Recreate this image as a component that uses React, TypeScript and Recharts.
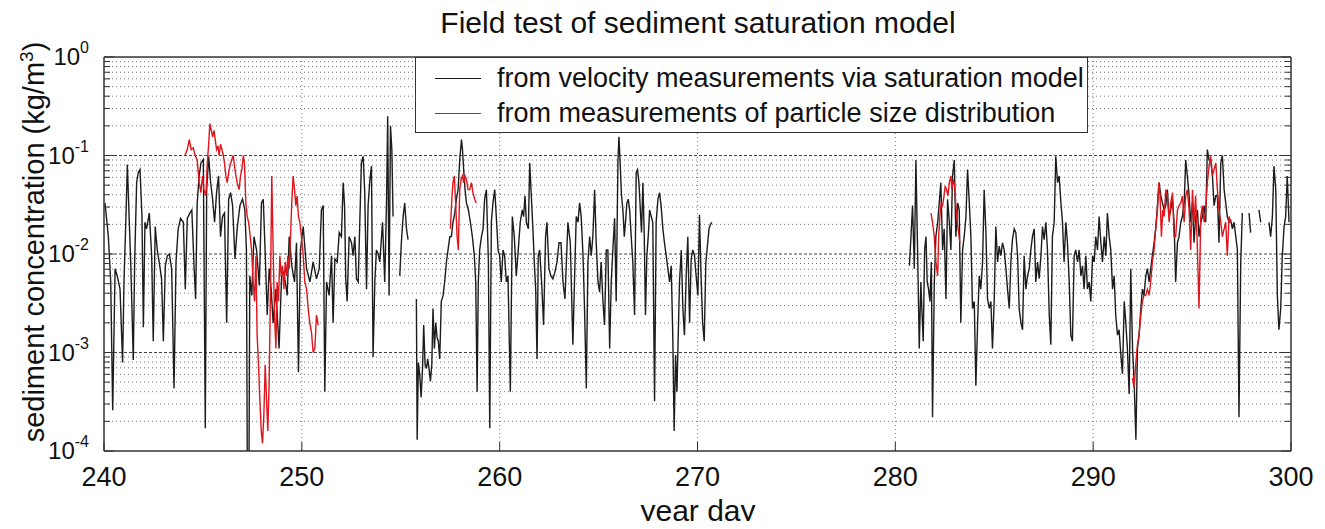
import React from 'react';
import { LineChart, Line, XAxis, YAxis, CartesianGrid, ReferenceLine } from 'recharts';

type Pt = [number, number | null];

// year day ticks
const dayTicks = [240, 250, 260, 270, 280, 290, 300];
const dayGrid = [250, 260, 270, 280, 290];

// log axis ticks (kg/m^3)
const decadeTicks = [0.0001, 0.001, 0.01, 0.1, 1];
const decadeGrid = [0.001, 0.01, 0.1];
const minorGrid = [
  0.0002, 0.0003, 0.0004, 0.0005, 0.0006, 0.0007, 0.0008, 0.0009,
  0.002, 0.003, 0.004, 0.005, 0.006, 0.007, 0.008, 0.009,
  0.02, 0.03, 0.04, 0.05, 0.06, 0.07, 0.08, 0.09,
  0.2, 0.3, 0.4, 0.5, 0.6, 0.7, 0.8, 0.9,
];
const logTicks = [...decadeTicks, ...minorGrid].sort((a, b) => a - b);

// black: from velocity measurements via saturation model (null = gap)
const velocityModel: Pt[] = [
  [240.05, 0.033], [240.22, 0.015], [240.34, 0.0052], [240.44, 0.00026], [240.56, 0.0071], [240.67, 0.006],
  [240.81, 0.0044], [240.94, 0.00079], [241.01, 0.0052], [241.11, 0.024], [241.18, 0.081], [241.28, 0.021],
  [241.36, 0.0071], [241.48, 0.00084], [241.55, 0.0083], [241.65, 0.053], [241.73, 0.067], [241.82, 0.072],
  [241.92, 0.024], [241.99, 0.0018], [242.07, 0.021], [242.15, 0.018], [242.29, 0.026], [242.41, 0.0096],
  [242.49, 0.0013], [242.59, 0.019], [242.69, 0.011], [242.79, 0.0083], [242.91, 0.0056], [243.0, 0.0013],
  [243.1, 0.0076], [243.2, 0.0096], [243.3, 0.01], [243.42, 0.0071], [243.54, 0.00043], [243.64, 0.0083],
  [243.75, 0.018], [243.87, 0.023], [244.01, 0.021], [244.11, 0.0044], [244.21, 0.023], [244.34, 0.026],
  [244.44, 0.028], [244.55, 0.0076], [244.63, 0.0035], [244.71, 0.033], [244.81, 0.062], [244.9, 0.084],
  [245.02, 0.091], [245.12, 0.00017], [245.19, 0.045], [245.29, 0.098], [245.39, 0.053], [245.49, 0.036],
  [245.59, 0.021], [245.69, 0.042], [245.79, 0.062], [245.89, 0.015], [245.99, 0.024], [246.09, 0.026],
  [246.2, 0.002], [246.3, 0.036], [246.4, 0.042], [246.5, 0.031], [246.62, 0.0089], [246.73, 0.018],
  [246.87, 0.031], [247.0, 0.036], [247.12, 0.028], [247.2, 0.011], [247.26, 0.00001], [247.31, 0.00001],
  [247.37, 0.006], [247.47, 0.0038], [247.58, 0.015], [247.71, 0.011], [247.85, 0.0048], [247.96, 0.033],
  [248.05, 0.036], [248.15, 0.01], [248.25, 0.0024], [248.35, 0.0071], [248.45, 0.0044], [248.55, 0.002],
  [248.69, 0.0044], [248.85, 0.0011], [248.99, 0.0071], [249.12, 0.006], [249.26, 0.0038], [249.36, 0.015],
  [249.49, 0.0076], [249.63, 0.0052], [249.73, 0.013], [249.83, 0.00063], [249.93, 0.011], [250.07, 0.019],
  [250.24, 0.0071], [250.41, 0.0052], [250.57, 0.0083], [250.74, 0.0056], [250.88, 0.0071], [250.99, 0.028],
  [251.08, 0.031], [251.16, 0.0004], [251.25, 0.0052], [251.38, 0.0038], [251.5, 0.0096], [251.58, 0.002],
  [251.67, 0.0089], [251.79, 0.0083], [251.89, 0.0165], [252.0, 0.015], [252.09, 0.053], [252.16, 0.031],
  [252.22, 0.0056], [252.29, 0.0033], [252.39, 0.015], [252.51, 0.013], [252.59, 0.0096], [252.68, 0.015],
  [252.76, 0.0056], [252.85, 0.0052], [252.93, 0.021], [253.01, 0.084], [253.1, 0.098], [253.18, 0.042],
  [253.27, 0.0044], [253.35, 0.031], [253.44, 0.057], [253.52, 0.078], [253.6, 0.0009], [253.69, 0.0052],
  [253.77, 0.011], [253.86, 0.01], [253.94, 0.0083], [254.08, 0.021], [254.19, 0.0052], [254.28, 0.033],
  [254.34, 0.25], [254.41, 0.0038], [254.48, 0.2], [254.55, 0.115], [254.61, 0.024], [254.75, null],
  [254.95, 0.006], [255.03, 0.013], [255.12, 0.024], [255.2, 0.033], [255.29, 0.018], [255.37, 0.014],
  [255.6, null],
  [255.79, 0.0035], [255.83, 0.00013], [255.89, 0.00079], [255.96, 0.00059], [256.03, 0.00035], [256.1, 0.00069],
  [256.16, 0.0019], [256.23, 0.00075], [256.3, 0.00069], [256.36, 0.00086], [256.43, 0.00069], [256.5, 0.00051],
  [256.57, 0.00075], [256.63, 0.0028], [256.7, 0.0011], [256.77, 0.002], [256.84, 0.0014], [256.9, 0.0013],
  [256.97, 0.00086], [257.05, 0.0033], [257.14, 0.0038], [257.22, 0.0052], [257.31, 0.0083], [257.39, 0.011],
  [257.48, 0.015], [257.56, 0.015], [257.64, 0.021], [257.73, 0.026], [257.81, 0.036], [257.9, 0.045],
  [257.98, 0.09], [258.07, 0.145], [258.12, 0.115], [258.18, 0.072], [258.25, 0.045], [258.32, 0.033],
  [258.42, 0.028], [258.52, 0.021], [258.62, 0.015], [258.72, 0.0096], [258.79, 0.0052], [258.86, 0.0004],
  [258.92, 0.0052], [258.99, 0.011], [259.08, 0.015], [259.16, 0.018], [259.24, 0.036], [259.33, 0.045],
  [259.43, 0.0083], [259.5, 0.00017], [259.58, 0.021], [259.66, 0.033], [259.75, 0.045], [259.83, 0.024],
  [259.92, 0.011], [260.0, 0.0096], [260.08, 0.0052], [260.17, 0.011], [260.25, 0.0096], [260.34, 0.0052],
  [260.42, 0.006], [260.54, 0.0004], [260.64, 0.024], [260.74, 0.015], [260.84, 0.006], [260.94, 0.011],
  [261.04, 0.021], [261.14, 0.028], [261.21, 0.024], [261.28, 0.039], [261.35, 0.021], [261.45, 0.018],
  [261.52, 0.084], [261.6, 0.039], [261.68, 0.018], [261.75, 0.0083], [261.82, 0.0044], [261.89, 0.00086],
  [261.95, 0.0096], [262.02, 0.011], [262.12, 0.0052], [262.22, 0.0019], [262.32, 0.015], [262.39, 0.021],
  [262.49, 0.0071], [262.59, 0.006], [262.69, 0.0056], [262.79, 0.0065], [262.9, 0.0083], [263.0, 0.013],
  [263.1, 0.013], [263.2, 0.0052], [263.3, 0.0035], [263.45, 0.021], [263.57, 0.013], [263.7, 0.0012],
  [263.79, 0.006], [263.87, 0.024], [263.96, 0.021], [264.04, 0.033], [264.12, 0.024], [264.21, 0.01],
  [264.29, 0.0028], [264.38, 0.00043], [264.46, 0.0083], [264.55, 0.015], [264.63, 0.0096], [264.71, 0.015],
  [264.8, 0.045], [264.88, 0.013], [264.97, 0.0052], [265.05, 0.0041], [265.13, 0.0083], [265.22, 0.0033],
  [265.3, 0.0019], [265.39, 0.011], [265.47, 0.011], [265.56, 0.0011], [265.64, 0.0052], [265.72, 0.011],
  [265.81, 0.023], [265.89, 0.0033], [265.98, 0.09], [266.03, 0.155], [266.09, 0.084], [266.16, 0.039],
  [266.23, 0.028], [266.3, 0.015], [266.36, 0.021], [266.43, 0.033], [266.5, 0.036], [266.57, 0.028],
  [266.65, 0.015], [266.73, 0.0083], [266.82, 0.0024], [266.9, 0.067], [266.97, 0.072], [267.04, 0.053],
  [267.1, 0.031], [267.17, 0.0165], [267.24, 0.053], [267.31, 0.015], [267.37, 0.0024], [267.44, 0.0096],
  [267.51, 0.015], [267.58, 0.028], [267.66, 0.024], [267.74, 0.021], [267.83, 0.00032], [267.91, 0.021],
  [268.0, 0.036], [268.08, 0.042], [268.16, 0.031], [268.25, 0.018], [268.33, 0.013], [268.42, 0.0096],
  [268.5, 0.0071], [268.59, 0.0052], [268.67, 0.0076], [268.75, 0.0015], [268.82, 0.00016], [268.89, 0.00094],
  [268.96, 0.0004], [269.02, 0.0013], [269.09, 0.0052], [269.18, 0.011], [269.26, 0.0028], [269.34, 0.0015],
  [269.43, 0.006], [269.51, 0.015], [269.6, 0.002], [269.68, 0.0089], [269.76, 0.011], [269.85, 0.0096],
  [269.93, 0.006], [270.02, 0.0038], [270.1, 0.025], [270.18, 0.006], [270.26, 0.002], [270.34, 0.0013],
  [270.42, 0.008], [270.5, 0.012], [270.58, 0.018], [270.66, 0.02], [270.72, 0.021],
  [275.0, null],
  [280.71, 0.0076], [280.79, 0.015], [280.87, 0.031], [280.96, 0.0071], [281.04, 0.09], [281.13, 0.0096],
  [281.21, 0.0011], [281.29, 0.0052], [281.34, 0.0028], [281.41, 0.0013], [281.48, 0.011], [281.55, 0.015],
  [281.61, 0.0052], [281.68, 0.0044], [281.75, 0.0033], [281.82, 0.0083], [281.88, 0.00022], [281.97, 0.0052],
  [282.05, 0.015], [282.14, 0.021], [282.22, 0.033], [282.3, 0.053], [282.39, 0.011], [282.47, 0.018],
  [282.56, 0.0035], [282.64, 0.036], [282.73, 0.021], [282.81, 0.011], [282.89, 0.062], [282.98, 0.09],
  [283.06, 0.015], [283.15, 0.033], [283.23, 0.028], [283.31, 0.002], [283.4, 0.011], [283.48, 0.015],
  [283.57, 0.024], [283.65, 0.072], [283.74, 0.033], [283.82, 0.015], [283.9, 0.0028], [283.99, 0.0033],
  [284.07, 0.00046], [284.16, 0.002], [284.24, 0.006], [284.32, 0.0044], [284.41, 0.0083], [284.49, 0.045],
  [284.58, 0.0165], [284.66, 0.0035], [284.75, 0.0028], [284.83, 0.0033], [284.91, 0.0011], [285.0, 0.0035],
  [285.08, 0.019], [285.17, 0.0083], [285.25, 0.012], [285.33, 0.0096], [285.42, 0.013], [285.5, 0.011],
  [285.59, 0.0071], [285.67, 0.0044], [285.76, 0.0028], [285.84, 0.0083], [285.92, 0.014], [286.01, 0.018],
  [286.09, 0.0165], [286.18, 0.0096], [286.26, 0.0028], [286.35, 0.002], [286.43, 0.0017], [286.51, 0.0096],
  [286.6, 0.0044], [286.68, 0.006], [286.77, 0.0071], [286.85, 0.011], [286.93, 0.015], [287.02, 0.018],
  [287.1, 0.0052], [287.19, 0.0083], [287.27, 0.0056], [287.36, 0.0096], [287.44, 0.019], [287.52, 0.014],
  [287.61, 0.021], [287.69, 0.011], [287.78, 0.0024], [287.86, 0.0012], [287.94, 0.015], [288.03, 0.021],
  [288.11, 0.098], [288.2, 0.053], [288.28, 0.062], [288.37, 0.033], [288.45, 0.021], [288.53, 0.0083],
  [288.62, 0.021], [288.7, 0.013], [288.79, 0.0052], [288.87, 0.0015], [288.95, 0.0013], [289.04, 0.0096],
  [289.12, 0.011], [289.21, 0.0083], [289.29, 0.011], [289.38, 0.006], [289.46, 0.0076], [289.54, 0.0044],
  [289.63, 0.0096], [289.71, 0.0044], [289.8, 0.0052], [289.88, 0.0033], [289.97, 0.0096], [290.05, 0.0083],
  [290.13, 0.015], [290.22, 0.011], [290.3, 0.024], [290.39, 0.013], [290.47, 0.0083], [290.56, 0.015],
  [290.64, 0.0096], [290.72, 0.026], [290.81, 0.015], [290.89, 0.011], [290.98, 0.0044], [291.06, 0.006],
  [291.14, 0.0024], [291.23, 0.0015], [291.31, 0.0017], [291.4, 0.00094], [291.48, 0.00061], [291.57, 0.0033],
  [291.65, 0.002], [291.73, 0.0011], [291.82, 0.00038], [291.9, 0.0071], [291.99, 0.0011], [292.07, 0.00051],
  [292.16, 0.00013], [292.24, 0.0011], [292.32, 0.0015], [292.41, 0.0028], [292.49, 0.0044], [292.57, 0.0038],
  [292.66, 0.006], [292.74, 0.0071], [292.83, 0.0052], [292.91, 0.0071], [292.99, 0.0096], [293.08, 0.013],
  [293.16, 0.018], [293.25, 0.031], [293.33, 0.053], [293.42, 0.039], [293.5, 0.033], [293.59, 0.028],
  [293.67, 0.031], [293.75, 0.045], [293.84, 0.024], [293.92, 0.028], [294.01, 0.036], [294.09, 0.021],
  [294.17, 0.0052], [294.26, 0.013], [294.34, 0.015], [294.43, 0.021], [294.51, 0.024], [294.6, 0.033],
  [294.68, 0.09], [294.76, 0.062], [294.85, 0.039], [294.93, 0.021], [295.02, 0.033], [295.1, 0.013],
  [295.18, 0.024], [295.27, 0.028], [295.35, 0.015], [295.44, 0.021], [295.52, 0.024], [295.61, 0.031],
  [295.69, 0.021], [295.77, 0.115], [295.86, 0.09], [295.94, 0.09], [296.03, 0.062], [296.11, 0.031],
  [296.2, 0.039], [296.28, 0.039], [296.36, 0.013], [296.45, 0.084], [296.53, 0.1], [296.62, 0.045],
  [296.7, 0.033], [296.78, 0.024], [296.87, 0.021], [296.95, 0.022], [297.04, 0.018], [297.12, 0.021],
  [297.21, 0.015], [297.29, 0.011], [297.37, 0.00022], [297.46, 0.0083], [297.54, 0.026],
  [297.7, null], [297.88, 0.026], [297.96, 0.0165],
  [298.2, null], [298.38, 0.028], [298.47, 0.021],
  [298.7, null],
  [298.89, 0.021], [298.97, 0.015], [299.06, 0.024], [299.14, 0.078], [299.23, 0.045], [299.31, 0.0038],
  [299.39, 0.0017], [299.48, 0.0028], [299.56, 0.0096], [299.65, 0.019], [299.73, 0.024], [299.81, 0.062],
  [299.9, 0.021],
];

// red: from measurements of particle size distribution (null = gap)
const particleSize: Pt[] = [
  [244.09, 0.1], [244.21, 0.115], [244.31, 0.145], [244.41, 0.115], [244.51, 0.12], [244.61, 0.1],
  [244.71, 0.09], [244.81, 0.053], [244.9, 0.042], [244.98, 0.062], [245.05, 0.045], [245.15, 0.039],
  [245.22, 0.084], [245.29, 0.13], [245.35, 0.21], [245.42, 0.18], [245.49, 0.155], [245.56, 0.18],
  [245.62, 0.145], [245.69, 0.115], [245.76, 0.125], [245.82, 0.1], [245.89, 0.13], [245.96, 0.115],
  [246.03, 0.1], [246.09, 0.084], [246.16, 0.062], [246.23, 0.053], [246.3, 0.067], [246.36, 0.078],
  [246.45, 0.09], [246.53, 0.1], [246.6, 0.078], [246.67, 0.062], [246.73, 0.053], [246.83, 0.045],
  [246.9, 0.062], [246.97, 0.072], [247.04, 0.1], [247.1, 0.084], [247.17, 0.033], [247.24, 0.024],
  [247.31, 0.021], [247.37, 0.0165], [247.46, 0.011], [247.54, 0.0052], [247.61, 0.0033], [247.68, 0.0096],
  [247.74, 0.0015], [247.81, 0.00075], [247.88, 0.00032], [247.95, 0.00016], [248.01, 0.00012], [248.08, 0.00023],
  [248.15, 0.00075], [248.22, 0.00032], [248.28, 0.00016], [248.35, 0.00051], [248.42, 0.0052], [248.48, 0.062],
  [248.55, 0.011], [248.62, 0.0024], [248.69, 0.0011], [248.75, 0.0052], [248.82, 0.0033], [248.89, 0.0096],
  [248.96, 0.006], [249.02, 0.0076], [249.09, 0.0044], [249.16, 0.0083], [249.23, 0.006], [249.29, 0.0096],
  [249.36, 0.0071], [249.43, 0.015], [249.49, 0.033], [249.56, 0.062], [249.63, 0.045], [249.7, 0.031],
  [249.76, 0.039], [249.83, 0.024], [249.9, 0.021], [249.98, 0.015], [250.07, 0.0096], [250.15, 0.0052],
  [250.24, 0.0044], [250.32, 0.0028], [250.4, 0.002], [250.49, 0.0016], [250.57, 0.001], [250.66, 0.0011],
  [250.74, 0.0024], [250.83, 0.0019],
  [254.0, null],
  [257.51, 0.018], [257.58, 0.036], [257.64, 0.053], [257.71, 0.062], [257.78, 0.031], [257.85, 0.015],
  [257.91, 0.011], [257.98, 0.045], [258.05, 0.057], [258.12, 0.062], [258.18, 0.053], [258.25, 0.062],
  [258.32, 0.057], [258.4, 0.045], [258.49, 0.045], [258.57, 0.053], [258.65, 0.042], [258.74, 0.036],
  [258.82, 0.033],
  [270.0, null],
  [281.8, 0.026], [281.88, 0.021], [281.97, 0.015], [282.05, 0.0083], [282.14, 0.006], [282.19, 0.015],
  [282.25, 0.024], [282.32, 0.033], [282.39, 0.031], [282.46, 0.039], [282.52, 0.049], [282.59, 0.045],
  [282.66, 0.039], [282.73, 0.053], [282.81, 0.062], [282.86, 0.045], [282.93, 0.057], [283.0, 0.049],
  [283.06, 0.031], [283.13, 0.021], [283.2, 0.0165], [283.26, 0.013],
  [288.0, null],
  [291.99, 0.00055], [292.07, 0.00044], [292.16, 0.0008], [292.24, 0.0012], [292.32, 0.0015], [292.41, 0.0024],
  [292.49, 0.0033], [292.57, 0.0038], [292.66, 0.0038], [292.74, 0.0044], [292.83, 0.0038], [292.91, 0.0052],
  [292.99, 0.0083], [293.08, 0.011], [293.16, 0.018], [293.25, 0.028], [293.32, 0.053], [293.38, 0.039],
  [293.45, 0.015], [293.52, 0.028], [293.59, 0.024], [293.67, 0.045], [293.75, 0.039], [293.84, 0.021],
  [293.92, 0.033], [294.01, 0.042], [294.09, 0.015], [294.17, 0.015], [294.26, 0.028], [294.34, 0.031],
  [294.43, 0.033], [294.51, 0.039], [294.6, 0.021], [294.68, 0.039], [294.76, 0.045], [294.85, 0.028],
  [294.93, 0.011], [295.02, 0.045], [295.1, 0.021], [295.18, 0.039], [295.27, 0.011], [295.35, 0.0028],
  [295.44, 0.024], [295.52, 0.031], [295.61, 0.021], [295.69, 0.028], [295.77, 0.053], [295.86, 0.078],
  [295.94, 0.098], [296.03, 0.062], [296.11, 0.072], [296.2, 0.084], [296.28, 0.045], [296.36, 0.028],
  [296.45, 0.021], [296.53, 0.015], [296.62, 0.018], [296.7, 0.021], [296.78, 0.0096], [296.87, 0.024],
  [296.95, 0.021],
];

const toRows = (pts: Pt[]) => pts.map(([day, conc]) => ({ day, conc }));
const velocityRows = toRows(velocityModel);
const particleRows = toRows(particleSize);

const FONT = '"Liberation Sans", Arial, Helvetica, sans-serif';
const AXIS = '#333';

const isDecade = (v: number) => {
  const e = Math.round(Math.log10(v));
  return Math.abs(v / Math.pow(10, e) - 1) < 1e-6;
};

const LeftTick = (props: any) => {
  const { x, y, payload } = props;
  const v = payload.value;
  const major = isDecade(v);
  const exp = Math.round(Math.log10(v));
  return (
    <g>
      <line x1={x} y1={y} x2={x + (major ? 10 : 6)} y2={y} stroke={AXIS} strokeWidth={1} />
      {major && (
        <text x={x - 15} y={y + 8} textAnchor="end" fontSize={24} fill="#111" fontFamily={FONT}>
          10
          <tspan dy={-12} fontSize={16}>
            {exp}
          </tspan>
        </text>
      )}
    </g>
  );
};

const RightTick = (props: any) => {
  const { x, y, payload } = props;
  const len = isDecade(payload.value) ? 10 : 6;
  return <line x1={x - len} y1={y} x2={x} y2={y} stroke={AXIS} strokeWidth={1} />;
};

const BottomTick = (props: any) => {
  const { x, y, payload } = props;
  return (
    <g>
      <line x1={x} y1={y} x2={x} y2={y - 9} stroke={AXIS} strokeWidth={1} />
      <text x={x} y={y + 35} textAnchor="middle" fontSize={27} fill="#111" fontFamily={FONT}>
        {payload.value}
      </text>
    </g>
  );
};

const TopTick = (props: any) => {
  const { x, y } = props;
  return <line x1={x} y1={y} x2={x} y2={y + 9} stroke={AXIS} strokeWidth={1} />;
};

const App: React.FC = () => {
  const width = 1309;
  const height = 513;

  return (
    <div style={{ position: 'relative', width, height, fontFamily: FONT, color: '#111' }}>
      <LineChart width={width} height={height} margin={{ top: 0, right: 0, bottom: 0, left: 0 }}>
        <CartesianGrid
          horizontalValues={minorGrid}
          verticalValues={dayGrid}
          stroke="#777"
          strokeDasharray="1 3"
        />
        {decadeGrid.map((v) => (
          <ReferenceLine key={v} y={v} stroke="#444" strokeDasharray="3 2" />
        ))}
        <XAxis
          dataKey="day"
          type="number"
          domain={[240, 300]}
          ticks={dayTicks}
          interval={0}
          height={70}
          tickSize={0}
          tickMargin={0}
          tickLine={false}
          tick={<BottomTick />}
          axisLine={{ stroke: AXIS, strokeWidth: 1.5 }}
          allowDataOverflow
        />
        <XAxis
          xAxisId="top"
          orientation="top"
          type="number"
          domain={[240, 300]}
          ticks={dayGrid}
          interval={0}
          height={49}
          tickSize={0}
          tickMargin={0}
          tickLine={false}
          tick={<TopTick />}
          axisLine={{ stroke: AXIS, strokeWidth: 1.5 }}
          allowDataOverflow
        />
        <YAxis
          type="number"
          scale="log"
          domain={[0.0001, 1]}
          allowDataOverflow
          ticks={logTicks}
          interval={0}
          width={96}
          tickSize={0}
          tickMargin={0}
          tickLine={false}
          tick={<LeftTick />}
          axisLine={{ stroke: AXIS, strokeWidth: 1.5 }}
        />
        <YAxis
          yAxisId="right"
          orientation="right"
          type="number"
          scale="log"
          domain={[0.0001, 1]}
          allowDataOverflow
          ticks={logTicks}
          interval={0}
          width={26}
          tickSize={0}
          tickMargin={0}
          tickLine={false}
          tick={<RightTick />}
          axisLine={{ stroke: AXIS, strokeWidth: 1.5 }}
        />
        <Line
          data={velocityRows}
          dataKey="conc"
          type="linear"
          stroke="#1c1c1c"
          strokeWidth={1.4}
          dot={false}
          activeDot={false}
          connectNulls={false}
          isAnimationActive={false}
        />
        <Line
          data={particleRows}
          dataKey="conc"
          type="linear"
          stroke="#e0141b"
          strokeWidth={1.4}
          dot={false}
          activeDot={false}
          connectNulls={false}
          isAnimationActive={false}
        />
      </LineChart>

      {/* title */}
      <div
        style={{
          position: 'absolute',
          left: 690,
          top: 0,
          transform: 'translateX(-50%)',
          fontSize: 30,
          lineHeight: '30px',
          whiteSpace: 'nowrap',
        }}
      >
        Field test of sediment saturation model
      </div>

      {/* y axis label */}
      <div
        style={{
          position: 'absolute',
          left: 26,
          top: 234,
          transform: 'translate(-50%, -50%) rotate(-90deg)',
          fontSize: 29,
          lineHeight: '32px',
          whiteSpace: 'nowrap',
        }}
      >
        sediment concentration (kg/m<sup style={{ fontSize: 19, lineHeight: 0 }}>3</sup>)
      </div>

      {/* x axis label */}
      <div
        style={{
          position: 'absolute',
          left: 690,
          top: 488,
          transform: 'translateX(-50%)',
          fontSize: 30,
          lineHeight: '30px',
          whiteSpace: 'nowrap',
        }}
      >
        year day
      </div>

      {/* legend */}
      <div
        style={{
          position: 'absolute',
          left: 407,
          top: 49,
          width: 673,
          height: 76,
          boxSizing: 'border-box',
          border: `1.5px solid ${AXIS}`,
          background: '#fff',
        }}
      >
        {[
          { label: 'from velocity measurements via saturation model', color: '#1c1c1c', top: 3 },
          { label: 'from measurements of particle size distribution', color: '#e0141b', top: 38 },
        ].map((item) => (
          <div
            key={item.label}
            style={{
              position: 'absolute',
              left: 0,
              top: item.top,
              height: 34,
              display: 'flex',
              alignItems: 'center',
              whiteSpace: 'nowrap',
            }}
          >
            <span style={{ display: 'inline-block', marginLeft: 19, width: 46, height: 0, borderTop: `1.3px solid ${item.color}` }} />
            <span style={{ marginLeft: 16, fontSize: 27, lineHeight: '34px' }}>{item.label}</span>
          </div>
        ))}
      </div>
    </div>
  );
};

export default App;
